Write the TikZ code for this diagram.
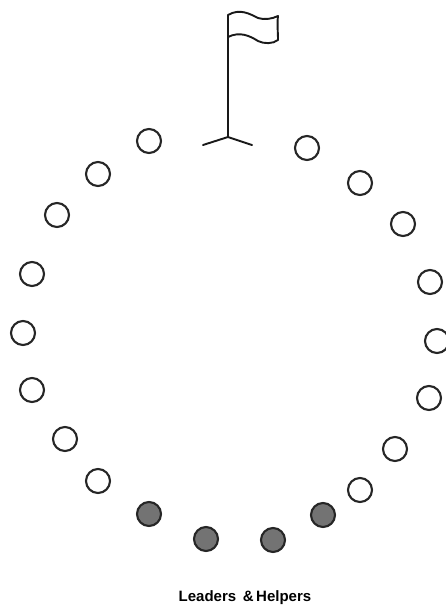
\documentclass[tikz,border=0pt]{standalone}
\usepackage{fontspec}
\setmainfont{Liberation Sans}
\tikzset{
  kid/.style={circle,draw=black!85,line width=2.1pt,fill=white,minimum size=24pt,inner sep=0pt},
  leader/.style={kid,fill=black!55},
  flagline/.style={draw=black!90,line width=1.9pt,line cap=round,line join=round}
}
\begin{document}
\begin{tikzpicture}[x=1pt,y=-1pt]
\useasboundingbox (0,0) rectangle (446,606);
\foreach \n/\x/\y in {a/149/141,b/98/174,c/57/215,d/32/274,e/23/333,f/32/390,g/65/439,h/98/481,
  i/307/148,j/360/183,k/403/224,l/430/282,m/437/341,n/429/398,o/395/449,p/360/490}
  {\node[kid] (\n) at (\x,\y) {};}
\foreach \n/\x/\y in {q/149/514,r/206/539,s/273/540,t/323/515}
  {\node[leader] (\n) at (\x,\y) {};}
\coordinate (top) at (228,15);
\coordinate (mid) at (228,37);
\coordinate (base) at (228,137);
\coordinate (footl) at (203,145);
\coordinate (footr) at (252,145);
\coordinate (flagtr) at (278,16);
\coordinate (flagbr) at (278,40);
\draw[flagline] (base) -- (top);
\draw[flagline] (footl) -- (base) -- (footr);
\draw[flagline] (top) .. controls (240,8) and (250,14) .. (258,18) .. controls (264,20) and (272,19) .. (flagtr)
  .. controls (277,24) and (278,32) .. (flagbr);
\draw[flagline] (mid) .. controls (240,31) and (250,36) .. (258,41) .. controls (264,44) and (273,44) .. (flagbr);
\node[font=\bfseries,scale=1.5] (cap) at (245,598) {Leaders \,\&\,Helpers};
\end{tikzpicture}
\end{document}
